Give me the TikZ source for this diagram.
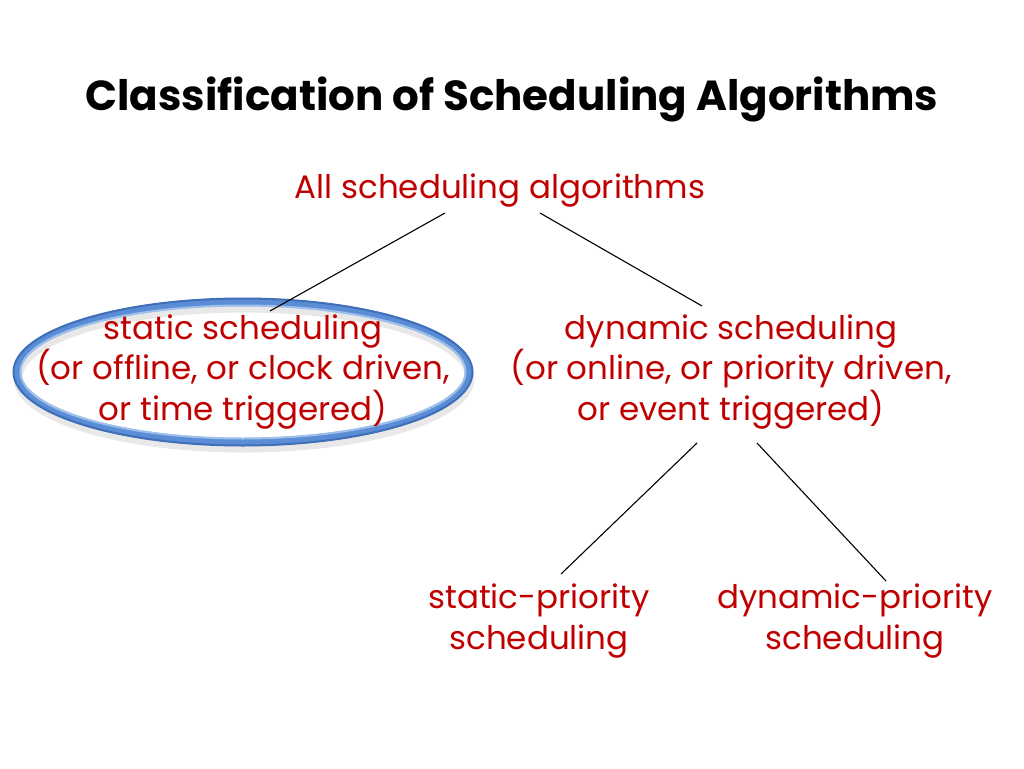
\documentclass[tikz,border=0pt]{standalone}
\usepackage{fontspec}
\setmainfont{Poppins}
\usetikzlibrary{calc}
\definecolor{txtred}{HTML}{C00000}
\definecolor{ellblue}{HTML}{5B8DD6}
\definecolor{elllight}{HTML}{9DBFEA}
\definecolor{elldark}{HTML}{3F6FB8}
\tikzset{
  label/.style={text=txtred, font=\fontsize{32.5}{40.5}\selectfont\mdseries, align=center, inner sep=0pt},
  edge/.style={draw=black, line width=1.1pt},
}
\begin{document}
\begin{tikzpicture}[x=1pt,y=-1pt]
\useasboundingbox[fill=white] (0,0) rectangle (1024,768);
% ellipse highlight
\draw[gray!30, line width=9pt, opacity=0.6] (244,378) ellipse [x radius=226, y radius=70];
\draw[ellblue, line width=8pt] (243,372) ellipse [x radius=226, y radius=70];
\draw[elldark, line width=2pt] (243,372) ellipse [x radius=229.5, y radius=73.5];
\draw[elllight, line width=2pt] (243,372) ellipse [x radius=222.5, y radius=66.5];

\node[font=\fontsize{42}{48}\selectfont\bfseries] (title) at (512,99) {Classification of Scheduling Algorithms};
\node[label] (all) at (500,191) {All scheduling algorithms};
\node[label] (static) at (243,372) {static scheduling\\(or offline, or clock driven,\\or time triggered)};
\node[label] (dynamic) at (731,372) {dynamic scheduling\\(or online, or priority driven,\\or event triggered)};
\node[label] (sp) at (539,621) {static-priority\\scheduling};
\node[label] (dp) at (855,621) {dynamic-priority\\scheduling};

\draw[edge] ($(all.center)+(-55,22)$) -- ($(static.center)+(27,-61)$);
\draw[edge] ($(all.center)+(40,22)$) -- ($(dynamic.center)+(-29,-66)$);
\draw[edge] ($(dynamic.center)+(-34,71)$) -- ($(sp.center)+(22,-47)$);
\draw[edge] ($(dynamic.center)+(26,71)$) -- ($(dp.center)+(31,-40)$);
\end{tikzpicture}
\end{document}
